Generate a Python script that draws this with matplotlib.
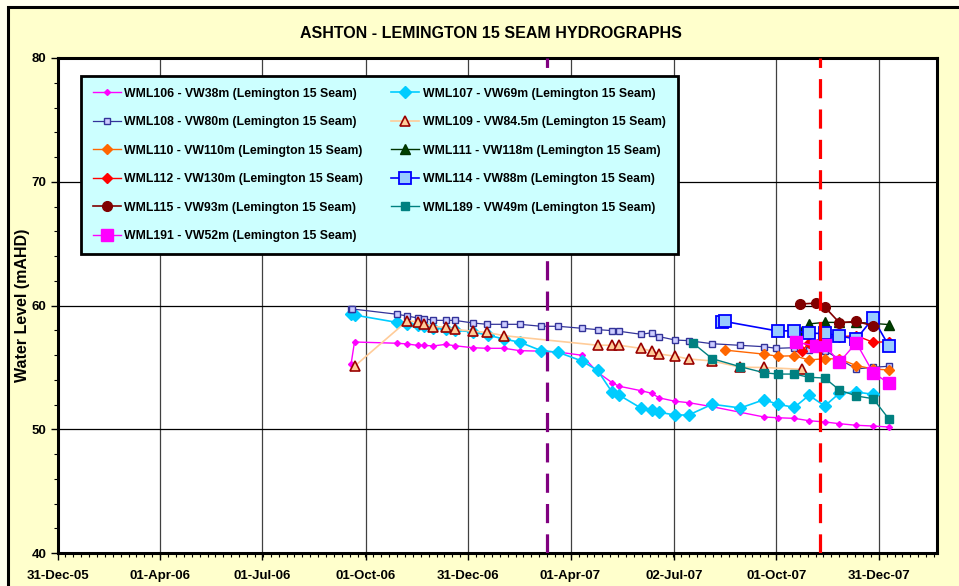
import matplotlib
matplotlib.use("Agg")
import matplotlib.pyplot as plt
import matplotlib.dates as mdates
from matplotlib.patches import Rectangle
import numpy as np
import pandas as pd

plt.rcParams["font.family"] = ["Liberation Sans", "DejaVu Sans"]
plt.rcParams["font.weight"] = "bold"

# dates are stored as days since 31-Dec-2005
START = pd.Timestamp("2005-12-31")

wml106_days = [261, 264, 302, 311, 320, 326, 334, 345, 353, 369, 382, 397, 411, 430, 445, 466, 480,
               493, 499, 519, 528, 535, 549, 561, 582, 607, 628, 640, 655, 668, 682, 695, 710, 725, 739]
wml106_level = [55.30, 57.05, 56.95, 56.89, 56.78, 56.78, 56.73, 56.86, 56.75, 56.59, 56.54, 56.54,
                56.35, 56.31, 56.24, 55.98, 54.61, 53.76, 53.48, 53.11, 52.91, 52.53, 52.26, 52.15,
                51.82, 51.37, 50.99, 50.93, 50.88, 50.69, 50.59, 50.45, 50.32, 50.26, 50.18]

wml107_days = [261, 264, 302, 311, 320, 326, 334, 345, 353, 369, 383, 397, 411, 430, 445, 466, 480,
               493, 499, 519, 528, 535, 549, 561, 582, 607, 628, 640, 655, 668, 682, 695, 710, 725]
wml107_level = [59.29, 59.23, 58.63, 58.51, 58.42, 58.34, 58.22, 58.10, 58.02, 57.86, 57.59, 57.29,
                57.03, 56.35, 56.22, 55.52, 54.76, 52.99, 52.77, 51.69, 51.56, 51.37, 51.15, 51.15,
                52.02, 51.72, 52.39, 52.02, 51.77, 52.74, 51.88, 52.91, 53.01, 52.82]

wml108_days = [261, 262, 302, 311, 320, 326, 334, 345, 353, 369, 382, 397, 411, 430, 445, 466, 480,
               493, 499, 519, 528, 535, 549, 561, 582, 607, 628, 639, 655, 668, 682, 710, 725, 739]
wml108_level = [59.72, 59.72, 59.29, 59.15, 58.99, 58.93, 58.80, 58.80, 58.80, 58.59, 58.48, 58.48,
                58.48, 58.32, 58.32, 58.16, 58.05, 57.97, 57.92, 57.67, 57.80, 57.48, 57.21, 57.16,
                56.91, 56.78, 56.67, 56.54, 56.59, 56.38, 56.36, 54.87, 55.01, 55.09]

wml109_days = [264, 311, 320, 326, 334, 345, 353, 369, 382, 397, 480, 493, 499, 519, 528, 535, 549,
               561, 582, 607, 628, 662]
wml109_level = [55.09, 58.77, 58.67, 58.53, 58.29, 58.26, 58.08, 57.92, 57.82, 57.56, 56.79, 56.79,
                56.79, 56.53, 56.32, 56.08, 55.90, 55.68, 55.52, 55.01, 54.99, 54.84]

wml110_days = [593, 628, 640, 655, 668, 682, 695, 710, 725, 739]
wml110_level = [56.40, 56.07, 55.90, 55.94, 55.60, 55.70, 55.68, 55.15, 54.87, 54.79]

wml111_days = [662, 668, 682, 695, 710, 725, 739]
wml111_level = [57.96, 58.51, 58.64, 58.63, 58.64, 58.55, 58.46]

wml112_days = [662, 668, 682, 695, 710, 725, 739]
wml112_level = [56.35, 56.97, 57.43, 57.48, 57.56, 57.03, 57.07]

wml114_days = [591, 593, 640, 655, 668, 682, 695, 710, 725, 739]
wml114_level = [58.63, 58.71, 57.94, 57.96, 57.75, 57.75, 57.54, 57.29, 58.97, 56.73]

wml115_days = [660, 674, 682, 695, 710, 725]
wml115_level = [60.12, 60.19, 59.88, 58.61, 58.71, 58.37]

wml189_days = [565, 582, 607, 628, 640, 655, 668, 682, 695, 710, 725, 739]
wml189_level = [56.95, 55.70, 55.05, 54.57, 54.46, 54.46, 54.20, 54.14, 53.17, 52.69, 52.47, 50.83]

wml191_days = [656, 674, 682, 695, 710, 725, 739]
wml191_level = [57.05, 56.73, 56.81, 55.41, 56.99, 54.57, 53.71]

event_days = [435, 678]  # purple and red dashed markers
tick_dates = ["2005-12-31", "2006-04-01", "2006-07-01", "2006-10-01", "2006-12-31",
              "2007-04-01", "2007-07-02", "2007-10-01", "2007-12-31"]


def to_dates(days):
    return START + pd.to_timedelta(days, unit="D")


W, H = 959, 586
fig = plt.figure(figsize=(W / 100, H / 100), dpi=100, facecolor="#FFFFEE")
fig.patches.append(Rectangle((8 / W, -0.05), 1.1, (H - 7) / H + 0.05, transform=fig.transFigure,
                             facecolor="#FFFFCC", edgecolor="black", linewidth=2.2, zorder=-10))

ax = fig.add_axes([57.5 / W, (H - 553) / H, 879.2 / W, 495 / H])
ax.set_facecolor("white")
ax.set_zorder(1)

series = [
    ("WML106 - VW38m (Lemington 15 Seam)", wml106_days, wml106_level,
     dict(color="#FF00FF", lw=1, marker="D", ms=3, mfc="#FF00FF", mec="#FF00FF")),
    ("WML107 - VW69m (Lemington 15 Seam)", wml107_days, wml107_level,
     dict(color="#00CCFF", lw=1.2, marker="D", ms=6, mfc="#00CCFF", mec="#00CCFF")),
    ("WML108 - VW80m (Lemington 15 Seam)", wml108_days, wml108_level,
     dict(color="#333399", lw=0.9, marker="s", ms=4, mfc="#CCCCFF", mec="#333399", mew=1)),
    ("WML109 - VW84.5m (Lemington 15 Seam)", wml109_days, wml109_level,
     dict(color="#FFCC99", lw=1.2, marker="^", ms=7, mfc="#FFCC99", mec="#990000", mew=1.2)),
    ("WML110 - VW110m (Lemington 15 Seam)", wml110_days, wml110_level,
     dict(color="#FF6600", lw=1, marker="D", ms=5, mfc="#FF6600", mec="#FF6600")),
    ("WML111 - VW118m (Lemington 15 Seam)", wml111_days, wml111_level,
     dict(color="#003300", lw=1, marker="^", ms=7, mfc="#004000", mec="#003300")),
    ("WML112 - VW130m (Lemington 15 Seam)", wml112_days, wml112_level,
     dict(color="#FF0000", lw=1, marker="D", ms=5, mfc="#FF0000", mec="#FF0000")),
    ("WML114 - VW88m (Lemington 15 Seam)", wml114_days, wml114_level,
     dict(color="#0000FF", lw=1.2, marker="s", ms=8, mfc="#99CCFF", mec="#0000FF", mew=1.3)),
    ("WML115 - VW93m (Lemington 15 Seam)", wml115_days, wml115_level,
     dict(color="#800000", lw=1.2, marker="o", ms=7, mfc="#800000", mec="#800000")),
    ("WML189 - VW49m (Lemington 15 Seam)", wml189_days, wml189_level,
     dict(color="#008080", lw=1, marker="s", ms=6, mfc="#008080", mec="#008080")),
    ("WML191 - VW52m (Lemington 15 Seam)", wml191_days, wml191_level,
     dict(color="#FF00FF", lw=1, marker="s", ms=8, mfc="#FF00FF", mec="#FF00FF")),
]

handles = {}
for label, days, level, style in series:
    h, = ax.plot(to_dates(days), level, label=label, zorder=3, **style)
    handles[label] = h

ev = to_dates(event_days)
ax.axvline(ev[0], color="#800080", lw=2.3, dashes=(6, 3.5), zorder=4)
ax.axvline(ev[1], color="#FF0000", lw=2.3, dashes=(6, 3.5), zorder=4)

ax.set_ylim(40, 80)
ax.set_xlim(START, START + pd.Timedelta(days=781.5))
ax.set_yticks([40, 50, 60, 70, 80])
ax.set_yticks(np.arange(40, 81, 2), minor=True)
ticks = pd.to_datetime(tick_dates)
ax.set_xticks(ticks)
ax.set_xticks(START + pd.to_timedelta(np.arange(0, 782, 91.25 / 13), unit="D"), minor=True)
ax.xaxis.set_major_formatter(mdates.DateFormatter("%d-%b-%y"))
ax.tick_params(axis="both", which="major", direction="out", length=5, width=1, labelsize=9.5, pad=3)
ax.tick_params(axis="both", which="minor", direction="out", length=3, width=0.8)
ax.tick_params(axis="x", which="major", pad=7)
for t in ax.get_xticklabels() + ax.get_yticklabels():
    t.set_fontweight("bold")

ax.grid(True, which="major", axis="y", color="black", lw=0.9)
ax.grid(True, which="major", axis="x", color="#404040", lw=0.9)
ax.set_axisbelow(True)
for s in ax.spines.values():
    s.set_linewidth(2.2)
    s.set_color("black")

ax.set_ylabel("Water Level (mAHD)", fontsize=11.5, fontweight="bold", labelpad=1)
fig.text(490.5 / W, 1 - 33 / H, "ASHTON - LEMINGTON 15 SEAM HYDROGRAPHS", ha="center", va="center",
         fontsize=11.5, fontweight="bold")

order = [0, 2, 4, 6, 8, 10, 1, 3, 5, 7, 9]
labels = [series[i][0] for i in order]
leg = ax.legend([handles[l] for l in labels], labels, ncol=2, loc="upper left",
                bbox_to_anchor=(0.0267, 0.9636), borderaxespad=0,
                prop={"weight": "bold", "size": 8.8}, frameon=True, fancybox=False,
                labelspacing=1.35, columnspacing=2.3, handlelength=2.3, handletextpad=0.3,
                borderpad=0.95, framealpha=1)
leg.get_frame().set_facecolor("#CCFFFF")
leg.get_frame().set_edgecolor("black")
leg.get_frame().set_linewidth(2)
leg.set_zorder(5)

fig.savefig("out.png", dpi=100, facecolor=fig.get_facecolor())
